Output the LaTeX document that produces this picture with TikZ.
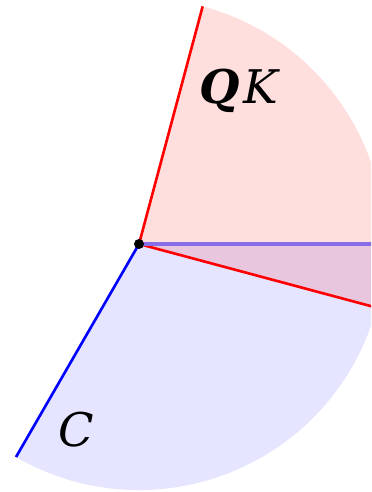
\documentclass[tikz,border=0pt]{standalone}
\usepackage{fontspec}
\newfontfamily\dvs{DejaVu Serif}
\definecolor{purpleline}{RGB}{135,110,232}
\begin{document}
\begin{tikzpicture}[x=1cm,y=1cm,
  lbl/.style={font=\dvs\fontsize{13.2}{16}\selectfont, anchor=base, inner sep=0pt},
  redray/.style={draw=red, line width=0.75pt},
  blueray/.style={draw=blue, line width=0.75pt}]
\useasboundingbox (-1.39,-2.48) rectangle (2.32,2.44);
\clip (-1.39,-2.48) rectangle (2.32,2.44);
\def\R{2.46}
\coordinate (O) at (0,0);
\coordinate (r1) at (75:\R);
\coordinate (r2) at (-15:\R);
\coordinate (b1) at (240:\R);
\coordinate (b2) at (0:\R);
\fill[blue, fill opacity=0.1] (O) -- (b1) arc[start angle=240, end angle=360, radius=\R] -- cycle;
\fill[red, fill opacity=0.13] (O) -- (r2) arc[start angle=-15, end angle=75, radius=\R] -- cycle;
\draw[redray] (O) -- (r1);
\draw[redray] (O) -- (r2);
\draw[blueray] (O) -- (b1);
\draw[draw=purpleline, line width=0.95pt] (O) -- (b2);
\fill[black] (O) circle (0.05);
\node[lbl] (qk) at (1.00,1.40) {\textbf{\itshape Q}\kern0.08em\itshape K};
\node[lbl] (c) at (-0.63,-2.02) {\itshape C};
\end{tikzpicture}
\end{document}
